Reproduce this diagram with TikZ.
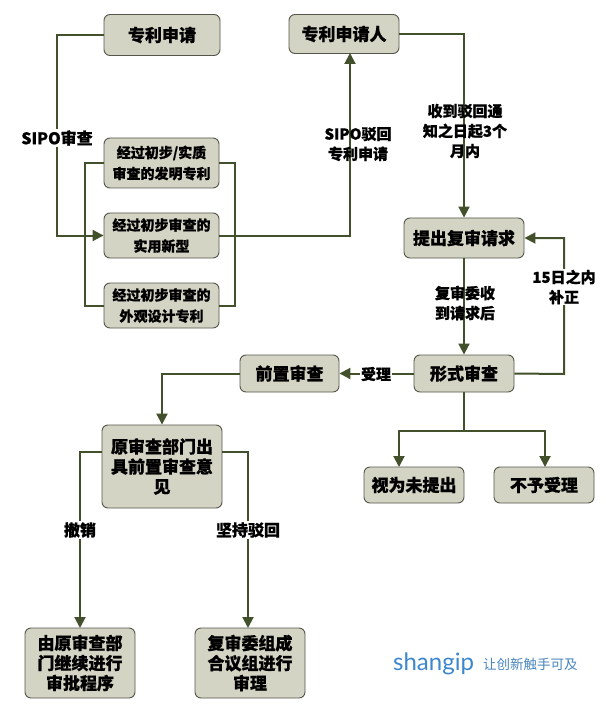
\documentclass[tikz,border=0pt]{standalone}
\usepackage{fontspec}
\setmainfont{Noto Sans CJK SC}[BoldFeatures={FakeBold=0.8}]
\newfontfamily\latinfont{Lato}
\usetikzlibrary{arrows.meta}
\definecolor{boxfill}{RGB}{212,212,196}
\definecolor{boxline}{RGB}{85,85,75}
\definecolor{lineclr}{RGB}{66,80,44}
\definecolor{wmblue}{RGB}{60,135,205}
\begin{document}
\begin{tikzpicture}[x=1pt,y=-1pt,
  box/.style={draw=boxline, fill=boxfill, rounded corners=6pt, line width=0.9pt,
    align=center, inner sep=0pt, font=\bfseries\fontsize{17}{20}\selectfont},
  smallbox/.style={box, font=\bfseries\fontsize{14}{21}\selectfont},
  conn/.style={draw=lineclr, line width=2pt},
  arr/.style={conn, -{Triangle[length=11pt,width=11pt]}},
  lbl/.style={align=center, inner sep=1pt, font=\bfseries\fontsize{15}{20}\selectfont},
  wlbl/.style={lbl, fill=white}]
\useasboundingbox (0,0) rectangle (605,711);
\fill[white] (0,0) rectangle (605,711);
% nodes
\node[box, minimum width=116pt, minimum height=41pt] (a) at (162,35) {专利申请};
\node[box, minimum width=110pt, minimum height=39pt] (b) at (344,34) {专利申请人};
\node[smallbox, minimum width=115pt, minimum height=50pt] (c1) at (161.5,163) {经过初步/实质\\审查的发明专利};
\node[smallbox, minimum width=115pt, minimum height=45pt] (c2) at (161.5,235.5) {经过初步审查的\\实用新型};
\node[smallbox, minimum width=115pt, minimum height=45pt] (c3) at (161.5,305.5) {经过初步审查的\\外观设计专利};
\node[box, minimum width=120pt, minimum height=40pt] (d) at (464,238) {提出复审请求};
\node[box, minimum width=100pt, minimum height=37pt] (e) at (464,373.5) {形式审查};
\node[box, minimum width=99pt, minimum height=37pt] (f) at (289.5,373.5) {前置审查};
\node[box, minimum width=100pt, minimum height=36pt] (g) at (414,485) {视为未提出};
\node[box, minimum width=100pt, minimum height=36pt] (h) at (544,485) {不予受理};
\node[box, minimum width=120pt, minimum height=83pt] (i) at (162,466.5) {原审查部门出\\具前置审查意\\见};
\node[box, minimum width=110pt, minimum height=70pt] (j) at (80,663) {由原审查部\\门继续进行\\审批程序};
\node[box, minimum width=110pt, minimum height=70pt] (k) at (250,663) {复审委组成\\合议组进行\\审理};
% coordinates
\coordinate (p1) at (57,35);
\coordinate (bl) at (85,163);
\coordinate (br) at (235,163);
\coordinate (bsub) at (350,53);
\coordinate (split) at (464,431);
\coordinate (gtop) at (399,467);
\coordinate (htop) at (545,467);
\coordinate (rt) at (564,374);
\coordinate (iL) at (102,452);
\coordinate (iR) at (222,452);
\coordinate (jtop) at (80,628);
\coordinate (ktop) at (248,628);
% connectors
\draw[arr] (a.west) -- (p1) |- (c2.west);
\draw[conn] (c1.west) -- (bl) |- (c3.west);
\draw[conn] (c1.east) -- (br) |- (c3.east);
\draw[arr] (c2.east) -| (bsub);
\draw[arr] (b.east) -| (d.north);
\draw[arr] (d.south) -- (e.north);
\draw[arr] (e.east) -- (rt) |- (d.east);
\draw[arr] (e.west) -- (f.east);
\draw[arr] (f.west) -| (i.north);
\draw[conn] (e.south) -- (split);
\draw[arr] (split) -| (gtop);
\draw[arr] (split) -| (htop);
\draw[arr] (iL) -| (jtop);
\draw[arr] (iR) -| (ktop);
% labels
\node[wlbl, font=\bfseries\fontsize{16}{20}\selectfont] (l1) at (57,138) {SIPO审查};
\node[lbl] (l2) at (358,144) {SIPO驳回\\专利申请};
\node[lbl] (l3) at (465,131) {收到驳回通\\知之日起3个\\月内};
\node[lbl] (l4) at (465,303) {复审委收\\到请求后};
\node[wlbl] (l5) at (564,287) {15日之内\\补正};
\node[wlbl, font=\bfseries\fontsize{15}{20}\selectfont] (l6) at (376,374) {受理};
\node[wlbl, font=\bfseries\fontsize{16}{20}\selectfont] (l7) at (80,530) {撤销};
\node[wlbl, font=\bfseries\fontsize{16}{20}\selectfont] (l8) at (248,530) {坚持驳回};
% watermark
\node[anchor=base west, inner sep=0pt, text=wmblue, font=\latinfont\fontsize{24}{24}\selectfont] (w1) at (393,670) {shangip};
\node[anchor=base west, inner sep=0pt, text=wmblue!80!gray, font=\fontsize{13.5}{14}\selectfont] (w2) at (483,669) {让创新触手可及};
\end{tikzpicture}
\end{document}
